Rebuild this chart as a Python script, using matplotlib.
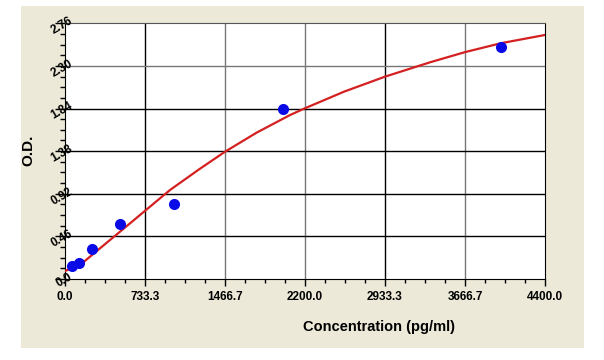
import matplotlib
matplotlib.use("Agg")
import matplotlib.pyplot as plt
import matplotlib.transforms as mtransforms
from matplotlib.patches import Rectangle
from matplotlib.ticker import MultipleLocator

# standards (pg/ml) and measured O.D.
conc = [62.5, 125, 250, 500, 1000, 2000, 4000]
od = [0.14, 0.176, 0.324, 0.594, 0.81, 1.832, 2.508]

# fitted curve
curve_x = [0, 156, 339, 523, 706, 963, 1237, 1467, 1757, 2063, 2200, 2560, 2933, 3346, 3667, 4000, 4400]
curve_y = [0.085, 0.169, 0.349, 0.529, 0.709, 0.961, 1.19, 1.374, 1.58, 1.77, 1.843, 2.023, 2.184, 2.339, 2.449, 2.546, 2.634]

x_ticks = [0.0, 733.3, 1466.7, 2200.0, 2933.3, 3666.7, 4400.0]
y_ticks = [0.0, 0.46, 0.92, 1.38, 1.84, 2.30, 2.76]
x_grid_colors = ["black", "#777777", "#777777", "black", "#777777"]
y_grid_colors = ["black", "black", "black", "black", "#777777"]

plt.rcParams["font.family"] = ["Liberation Sans", "DejaVu Sans"]

fig = plt.figure(figsize=(6.04, 3.6), dpi=100)
fig.patch.set_facecolor("white")
W, H = 604., 360.
fig.patches.append(Rectangle((21 / W, 1 - 348 / H), (584 - 21) / W, (348 - 6) / H,
                             transform=fig.transFigure, facecolor="#ECE9D8",
                             edgecolor="none", zorder=-5))

ax = fig.add_axes([65 / W, 1 - 279 / H, 480 / W, (279 - 23.3) / H])
ax.set_zorder(2)
ax.set_facecolor("white")
ax.set_xlim(0, 4400)
ax.set_ylim(0, 2.76)

for xv, c in zip(x_ticks[1:-1], x_grid_colors):
    ax.axvline(xv, color=c, lw=1.0, zorder=1)
for yv, c in zip(y_ticks[1:-1], y_grid_colors):
    ax.axhline(yv, color=c, lw=1.0, zorder=1)

ax.plot(curve_x, curve_y, color="#D42020", lw=1.6, zorder=3)
ax.plot(conc, od, "o", color="#0A0AE6", markersize=8, markeredgewidth=0, zorder=4)

ax.set_xticks(x_ticks)
ax.set_xticklabels(["%.1f" % v for v in x_ticks], fontsize=8.5, fontweight="bold")
ax.xaxis.set_minor_locator(MultipleLocator(733.33333 / 4))
ax.set_yticks(y_ticks)
ax.set_yticklabels([])
ax.yaxis.set_minor_locator(MultipleLocator(0.46 / 4))
ax.tick_params(axis="x", which="major", direction="out", length=5, width=1, pad=4)
ax.tick_params(axis="x", which="minor", direction="out", length=3, width=1)
ax.tick_params(axis="y", which="major", direction="out", length=7, width=1)
ax.tick_params(axis="y", which="minor", direction="out", length=3.5, width=1)

# rotated y tick labels that overlap the axis
offs = mtransforms.offset_copy(ax.transData, fig=fig, x=8 * 0.72, y=0.5, units="points")
for yv in y_ticks:
    ax.text(0, yv, "%.2f" % yv if yv > 0 else "0.0", transform=offs, rotation=30,
            rotation_mode="anchor", ha="right", va="baseline", fontsize=8.5,
            fontweight="bold", clip_on=False, zorder=5)

for s in ["left", "bottom", "right"]:
    ax.spines[s].set_color("black")
ax.spines["top"].set_color("#555555")

fig.text(379 / W, 1 - 327 / H, "Concentration (pg/ml)", ha="center", va="center",
         fontsize=10.5, fontweight="bold")
fig.text(28 / W, 1 - 150 / H, "O.D.", ha="center", va="center", rotation=90,
         fontsize=11, fontweight="bold")

fig.savefig("out.png", dpi=100)
